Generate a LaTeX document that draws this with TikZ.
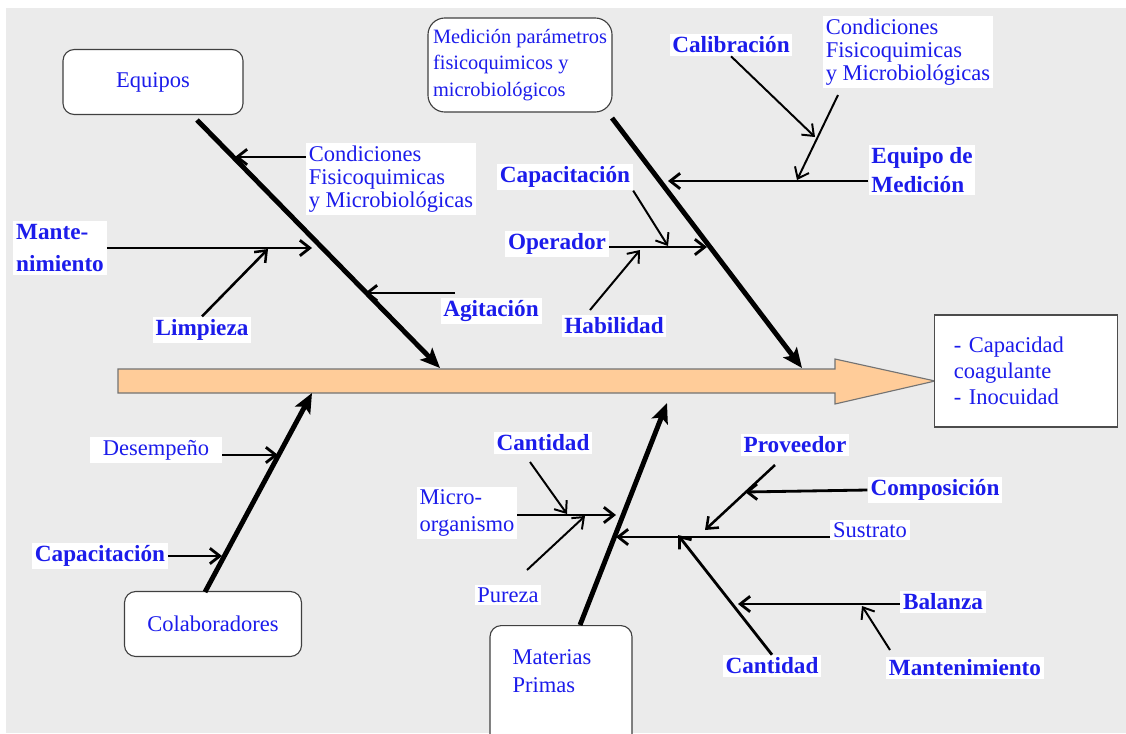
\documentclass[tikz,border=0pt]{standalone}
\usepackage{fontspec}
\setmainfont{Liberation Serif}
\usepackage{xcolor}
\usetikzlibrary{arrows.meta}
\definecolor{label-blue}{RGB}{28,28,235}
\definecolor{back-gray}{RGB}{235,235,235}
\definecolor{spine-orange}{RGB}{255,204,153}

\begin{document}
\begin{tikzpicture}[x = 0.025cm, y = -0.025cm,
      label-text/.style = {fill = white, text = label-blue, inner sep = 2pt, align = left,
                           font = \fontsize{16}{19}\selectfont},
      label-bold/.style = {label-text, font = \fontsize{16.5}{20.5}\selectfont\bfseries},
      cause-box/.style = {draw = black!75, fill = white, rounded corners = 8pt, line width = 0.8pt,
                          text = label-blue, font = \fontsize{16}{19}\selectfont},
      bone/.style = {arrows = {-Stealth[length = 14pt, width = 12pt, inset = 3pt]}, line width = 3.5pt},
      twig/.style = {arrows = {-Straight Barb[length = 7pt, width = 11pt]}, line width = 2pt},
      thin-twig/.style = {twig, line width = 1.4pt}]
            \useasboundingbox (0,0) rectangle (1126,733);
            \fill [back-gray] (6,8) rectangle (1126,733);
            \draw [fill = spine-orange, draw = black!55, line width = 0.8pt] (118,369) -- (835,369)
                  -- (835,359) -- (935,381) -- (835,404) -- (835,393) -- (118,393) -- cycle;
            \node [draw = black!70, fill = white, line width = 0.8pt, minimum width = 4.575cm,
                   minimum height = 2.8cm, text width = 3.6cm, text = label-blue, align = left,
                   font = \fontsize{16}{18.5}\selectfont] (effect) at (1026,371)
                  {- Capacidad\\coagulante\\- Inocuidad};
            \node [cause-box, minimum width = 4.5cm, minimum height = 1.625cm] (equipos) at (153,82) {Equipos};
            \node [cause-box, minimum width = 4.6cm, minimum height = 2.35cm, align = left, rounded corners = 12pt,
                   font = \fontsize{14.5}{19}\selectfont] (medicion) at (520,65)
                  {Medición parámetros\\fisicoquimicos y\\microbiológicos};
            \node [cause-box, minimum width = 4.425cm, minimum height = 1.625cm] (colaboradores) at (213,624) {Colaboradores};
            \node [cause-box, minimum width = 3.55cm, minimum height = 3cm, anchor = north] (materias) at (561,625) {};
            \node [text = label-blue, align = left, font = \fontsize{16}{20}\selectfont] (materias-text) at (552,671)
                  {Materias\\Primas};
            \node [label-text, font = \fontsize{16}{16.5}\selectfont] (cond-left) at (391,179)
                  {Condiciones\\Fisicoquimicas\\y Microbiológicas};
            \node [label-bold, font = \fontsize{16.5}{23}\selectfont\bfseries] (mante) at (60,248) {Mante-\\nimiento};
            \node [label-bold] (limpieza) at (202,330) {Limpieza};
            \node [label-bold] (agitacion) at (491,311) {Agitación};
            \node [label-bold] (calibracion) at (731,45) {Calibración};
            \node [label-text, font = \fontsize{16}{16.5}\selectfont] (cond-right) at (908,52)
                  {Condiciones\\Fisicoquimicas\\y Microbiológicas};
            \node [label-bold] (equipo-med) at (922,170) {Equipo de\\Medición};
            \node [label-bold] (capacitacion-op) at (565,177) {Capacitación};
            \node [label-bold] (operador) at (557,244) {Operador};
            \node [label-bold] (habilidad) at (614,326) {Habilidad};
            \node [label-text, inner xsep = 9pt] (desempeno) at (156,450) {Desempeño};
            \node [label-bold] (capacitacion-col) at (100,556) {Capacitación};
            \node [label-bold] (cantidad-mp) at (543,443) {Cantidad};
            \node [label-text] (micro) at (467,513) {Micro-\\organismo};
            \node [label-text] (pureza) at (508,595) {Pureza};
            \node [label-bold] (proveedor) at (795,445) {Proveedor};
            \node [label-bold] (composicion) at (935,490) {Composición};
            \node [label-text] (sustrato) at (870,530) {Sustrato};
            \node [label-bold] (cantidad-sub) at (772,666) {Cantidad};
            \node [label-bold] (balanza) at (943,602) {Balanza};
            \node [label-bold] (mantenimiento) at (965,668) {Mantenimiento};
            \coordinate (equipos-tail) at (197,120);
            \coordinate (equipos-head) at (440,368);
            \coordinate (medicion-tail) at (612,118);
            \coordinate (medicion-head) at (802,368);
            \coordinate (colab-tail) at (205,592);
            \coordinate (colab-head) at (312,393);
            \coordinate (materias-tail) at (580,625);
            \coordinate (materias-head) at (667,403);
            \coordinate (cond-left-tip) at (235,157);
            \coordinate (mante-tip) at (312,248);
            \coordinate (limpieza-tip) at (268,249);
            \coordinate (agitacion-tail) at (455,293);
            \coordinate (agitacion-tip) at (365,293);
            \coordinate (calibracion-tip) at (815,137);
            \coordinate (cond-right-tail) at (838,95);
            \coordinate (cond-right-tip) at (797,180);
            \coordinate (equipo-med-tip) at (668,181);
            \coordinate (capacitacion-op-tip) at (668,246);
            \coordinate (operador-tip) at (707,247);
            \coordinate (habilidad-tail) at (590,310);
            \coordinate (habilidad-tip) at (640,250);
            \coordinate (desempeno-tip) at (278,455);
            \coordinate (capacitacion-col-tip) at (222,556);
            \coordinate (cantidad-mp-tail) at (530,462);
            \coordinate (cantidad-mp-tip) at (567,514);
            \coordinate (micro-tip) at (616,515);
            \coordinate (pureza-tail) at (527,570);
            \coordinate (pureza-tip) at (585,516);
            \coordinate (proveedor-tail) at (775,465);
            \coordinate (proveedor-tip) at (705,530);
            \coordinate (composicion-tip) at (745,492);
            \coordinate (sustrato-tip) at (616,537);
            \coordinate (cantidad-sub-tip) at (678,535);
            \coordinate (balanza-tip) at (738,604);
            \coordinate (mantenimiento-tail) at (890,650);
            \coordinate (mantenimiento-tip) at (862,606);
            \draw [bone] (equipos-tail) -- (equipos-head);
            \draw [bone] (medicion-tail) -- (medicion-head);
            \draw [bone] (colab-tail) -- (colab-head);
            \draw [bone] (materias-tail) -- (materias-head);
            \draw [twig] (cond-left.west |- cond-left-tip) -- (cond-left-tip);
            \draw [twig] (mante.east |- mante-tip) -- (mante-tip);
            \draw [thin-twig, line width = 1.8pt] (limpieza.north) -- (limpieza-tip);
            \draw [twig] (agitacion-tail) -- (agitacion-tip);
            \draw [thin-twig] (calibracion.south) -- (calibracion-tip);
            \draw [thin-twig] (cond-right-tail) -- (cond-right-tip);
            \draw [twig] (equipo-med.west |- equipo-med-tip) -- (equipo-med-tip);
            \draw [thin-twig] (capacitacion-op.south east) -- (capacitacion-op-tip);
            \draw [twig] (operador.east |- operador-tip) -- (operador-tip);
            \draw [thin-twig] (habilidad-tail) -- (habilidad-tip);
            \draw [twig] (desempeno.east |- desempeno-tip) -- (desempeno-tip);
            \draw [twig] (capacitacion-col.east) -- (capacitacion-col-tip);
            \draw [thin-twig] (cantidad-mp-tail) -- (cantidad-mp-tip);
            \draw [twig] (micro.east |- micro-tip) -- (micro-tip);
            \draw [thin-twig] (pureza-tail) -- (pureza-tip);
            \draw [thin-twig, line width = 1.8pt] (proveedor-tail) -- (proveedor-tip);
            \draw [twig] (composicion.west) -- (composicion-tip);
            \draw [twig] (sustrato.west |- sustrato-tip) -- (sustrato-tip);
            \draw [twig] (cantidad-sub.north) -- (cantidad-sub-tip);
            \draw [twig] (balanza.west |- balanza-tip) -- (balanza-tip);
            \draw [thin-twig] (mantenimiento-tail) -- (mantenimiento-tip);
         \end{tikzpicture}
\end{document}
